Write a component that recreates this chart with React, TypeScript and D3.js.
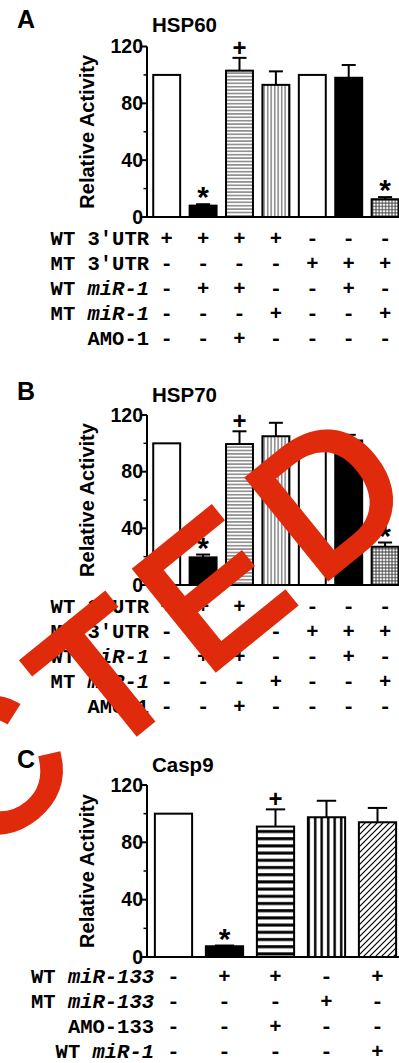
import React from 'react';
import * as d3 from 'd3';

// bar heights (relative activity, %) and SEM
const hsp60Values = [100, 8, 103, 93, 100, 98, 12.5];
const hsp60Errors = [0, 1, 9, 9.5, 0, 9, 1.5];
const hsp60Marks = ['', '*', '+', '', '', '', '*'];

const hsp70Values = [100, 19.5, 99.5, 105, 100, 102, 27];
const hsp70Errors = [0, 2, 9, 9.5, 0, 4, 3];
const hsp70Marks = ['', '*', '+', '', '', '', '*'];

const casp9Values = [100, 7.5, 91, 97.5, 94];
const casp9Errors = [0, 0.5, 12, 11.5, 10];
const casp9Marks = ['', '*', '+', '', ''];

const yTicks = [0, 40, 80, 120];
const yMinorTicks = [20, 60, 100];

// condition table under each chart
const rowLabelsAB: [string, string, boolean][] = [
  ['WT', "3'UTR", false],
  ['MT', "3'UTR", false],
  ['WT', 'miR-1', true],
  ['MT', 'miR-1', true],
  ['', 'AMO-1', false],
];
const rowSignsAB = ['++++---', '----+++', '-++--+-', '---+--+', '--+----'];

const rowLabelsC: [string, string, boolean][] = [
  ['WT', 'miR-133', true],
  ['MT', 'miR-133', true],
  ['', 'AMO-133', false],
  ['WT', 'miR-1', true],
];
const rowSignsC = ['-++-+', '---+-', '--+--', '----+'];

const fillsAB = ['white', 'black', 'url(#hlines)', 'url(#vlines)', 'white', 'black', 'url(#grid)'];
const fillsC = ['white', 'black', 'url(#hstripes)', 'url(#vstripes)', 'url(#diag)'];

const STAMP_RED = '#df2a0b';
const MONO = "'Courier New', Courier, 'Liberation Mono', monospace";

interface PanelCfg {
  letter: string;
  letterY: number;
  title: string;
  titleY: number;
  top: number;
  zero: number;
  x0: number;
  x1: number;
  pad: number;
  values: number[];
  errors: number[];
  marks: string[];
  fills: string[];
  labels: [string, string, boolean][];
  signs: string[];
  labelX: number;
  rowY0: number;
  rowStep: number;
}

const panels: PanelCfg[] = [
  {
    letter: 'A', letterY: 28, title: 'HSP60', titleY: 32, top: 46.5, zero: 217,
    x0: 148.5, x1: 403.3, pad: 0.26,
    values: hsp60Values, errors: hsp60Errors, marks: hsp60Marks, fills: fillsAB,
    labels: rowLabelsAB, signs: rowSignsAB, labelX: 149, rowY0: 245, rowStep: 25,
  },
  {
    letter: 'B', letterY: 400, title: 'HSP70', titleY: 402, top: 415, zero: 585,
    x0: 148.5, x1: 403.3, pad: 0.26,
    values: hsp70Values, errors: hsp70Errors, marks: hsp70Marks, fills: fillsAB,
    labels: rowLabelsAB, signs: rowSignsAB, labelX: 149, rowY0: 613, rowStep: 25,
  },
  {
    letter: 'C', letterY: 768, title: 'Casp9', titleY: 772, top: 785, zero: 957,
    x0: 148, x1: 403, pad: 0.27,
    values: casp9Values, errors: casp9Errors, marks: casp9Marks, fills: fillsC,
    labels: rowLabelsC, signs: rowSignsC, labelX: 154, rowY0: 983, rowStep: 25,
  },
];

const Panel: React.FC<{ p: PanelCfg }> = ({ p }) => {
  const n = p.values.length;
  const x = d3.scaleBand<number>()
    .domain(d3.range(n))
    .range([p.x0, p.x1])
    .paddingInner(p.pad)
    .paddingOuter(p.pad / 2);
  const y = d3.scaleLinear().domain([0, 120]).range([p.zero, p.top]);
  const bw = x.bandwidth();
  const axisX = 147;

  return (
    <g>
      <text x={17} y={p.letterY} fontSize={25} fontWeight="bold">{p.letter}</text>
      <text x={152} y={p.titleY} fontSize={20.5} fontWeight="bold">{p.title}</text>
      <text
        transform={`translate(94,${(p.zero + p.top) / 2}) rotate(-90)`}
        textAnchor="middle" fontSize={20} fontWeight="bold"
      >Relative Activity</text>

      {/* bars */}
      {p.values.map((v, i) => (
        <rect key={'b' + i} x={x(i)} y={y(v)} width={bw} height={y(0) - y(v)}
          fill={p.fills[i]} stroke="black" strokeWidth={2} />
      ))}

      {/* error bars */}
      {p.values.map((v, i) => {
        if (!p.errors[i]) return null;
        const cx = (x(i) || 0) + bw / 2;
        const yt = y(v + p.errors[i]);
        const cw = bw * 0.52;
        return (
          <g key={'e' + i} stroke="black" strokeWidth={2}>
            <line x1={cx} x2={cx} y1={y(v)} y2={yt} />
            <line x1={cx - cw / 2} x2={cx + cw / 2} y1={yt} y2={yt} />
          </g>
        );
      })}

      {/* significance marks */}
      {p.values.map((v, i) => {
        const m = p.marks[i];
        if (!m) return null;
        const cx = (x(i) || 0) + bw / 2;
        const yt = y(v + p.errors[i]);
        if (m === '*') {
          return <text key={'m' + i} x={cx} y={yt - 14 + 17} textAnchor="middle"
            fontSize={30} fontWeight="bold">*</text>;
        }
        return <text key={'m' + i} x={cx} y={yt - 10 + 8} textAnchor="middle"
          fontSize={24} fontWeight="bold">+</text>;
      })}

      {/* axes */}
      <line x1={axisX} x2={axisX} y1={y(0) + 1} y2={y(120)} stroke="black" strokeWidth={2} />
      <line x1={axisX} x2={399} y1={y(0)} y2={y(0)} stroke="black" strokeWidth={2} />
      {yTicks.map(t => (
        <g key={'t' + t}>
          <line x1={axisX - 6} x2={axisX} y1={y(t)} y2={y(t)} stroke="black" strokeWidth={2} />
          <text x={143} y={y(t) + 6.8} textAnchor="end" fontSize={19.5} fontWeight="bold">{t}</text>
        </g>
      ))}
      {yMinorTicks.map(t => (
        <line key={'mt' + t} x1={axisX - 3.5} x2={axisX} y1={y(t)} y2={y(t)}
          stroke="black" strokeWidth={1.5} />
      ))}

      {/* condition table */}
      {p.labels.map(([pre, name, it], r) => (
        <g key={'r' + r} fontFamily={MONO} fontWeight="bold" fontSize={20.5}>
          <text x={p.labelX} y={p.rowY0 + r * p.rowStep} textAnchor="end" style={{ whiteSpace: 'pre' }}>
            {pre ? <tspan>{pre + ' '}</tspan> : null}
            <tspan fontStyle={it ? 'italic' : 'normal'}>{name}</tspan>
          </text>
          {p.signs[r].split('').map((s, i) => (
            <text key={i} x={(x(i) || 0) + bw / 2} y={p.rowY0 + r * p.rowStep}
              textAnchor="middle">{s}</text>
          ))}
        </g>
      ))}
    </g>
  );
};

const App: React.FC = () => {
  return (
    <svg width={399} height={1063} viewBox="0 0 399 1063"
      style={{ position: 'absolute', left: 0, top: 0, background: 'white' }}
      fontFamily="'Liberation Sans', Arial, Helvetica, sans-serif">
      <defs>
        <pattern id="hlines" patternUnits="userSpaceOnUse" width={4} height={3.4}>
          <rect width={4} height={3.4} fill="white" />
          <line x1={0} x2={4} y1={1.7} y2={1.7} stroke="#444" strokeWidth={1} />
        </pattern>
        <pattern id="vlines" patternUnits="userSpaceOnUse" width={3.5} height={4}>
          <rect width={3.5} height={4} fill="white" />
          <line x1={1.7} x2={1.7} y1={0} y2={4} stroke="#444" strokeWidth={1} />
        </pattern>
        <pattern id="grid" patternUnits="userSpaceOnUse" width={3.2} height={3.2}>
          <rect width={3.2} height={3.2} fill="white" />
          <line x1={0} x2={3.2} y1={1.6} y2={1.6} stroke="#333" strokeWidth={0.9} />
          <line x1={1.6} x2={1.6} y1={0} y2={3.2} stroke="#333" strokeWidth={0.9} />
        </pattern>
        <pattern id="hstripes" patternUnits="userSpaceOnUse" width={6} height={7.2}>
          <rect width={6} height={7.2} fill="white" />
          <rect y={2} width={6} height={3} fill="black" />
        </pattern>
        <pattern id="vstripes" patternUnits="userSpaceOnUse" width={6.5} height={6}>
          <rect width={6.5} height={6} fill="white" />
          <rect x={2} width={2.4} height={6} fill="black" />
        </pattern>
        <pattern id="diag" patternUnits="userSpaceOnUse" width={6} height={6}>
          <rect width={6} height={6} fill="white" />
          <path d="M-1,7 L7,-1 M-4,4 L4,-4 M2,10 L10,2" stroke="black" strokeWidth={1.2} />
        </pattern>
      </defs>

      {panels.map(p => <Panel key={p.letter} p={p} />)}

      {/* retraction stamp laid over the figure */}
      <text transform="rotate(-39)" x={-1290} y={655} fontSize={184}
        letterSpacing={22} fill={STAMP_RED} stroke={STAMP_RED} strokeWidth={7}
        strokeLinejoin="miter" fontFamily="'Liberation Sans', Arial, sans-serif">RETRACTED</text>
    </svg>
  );
};

export default App;
